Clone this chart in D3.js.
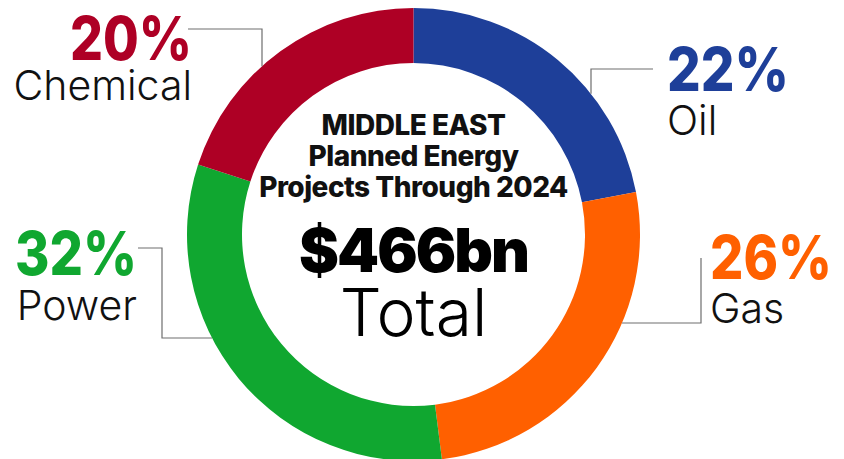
<!DOCTYPE html>
<html>
<head>
<meta charset="utf-8">
<script src="https://cdn.jsdelivr.net/npm/d3@7"></script>
<style>
  body { margin: 0; background: #fff; }
  svg text { font-family: "Inter", "DejaVu Sans", sans-serif; }
</style>
</head>
<body>
<div id="chart"></div>
<script>
// data
var categories = ["Oil", "Gas", "Power", "Chemical"];
var shares = [22, 26, 32, 20];
var colors = ["#1e3f99", "#ff6000", "#10a730", "#ae0025"];
var titleLines = ["MIDDLE EAST", "Planned Energy", "Projects Through 2024"];
var totalLabel = "$466bn";

var W = 844, H = 459;
var cx = 413.5, cy = 234.5, rOut = 226.5, rIn = 171.5;

var svg = d3.select("#chart").append("svg")
    .attr("width", W).attr("height", H);

var pie = d3.pie().sort(null).value(function(d) { return d; });
var arc = d3.arc().innerRadius(rIn).outerRadius(rOut);

var g = svg.append("g").attr("transform", "translate(" + cx + "," + cy + ")");
g.selectAll("path.slice")
    .data(pie(shares))
    .enter().append("path")
    .attr("class", "slice")
    .attr("d", arc)
    .attr("fill", function(d, i) { return colors[i]; });

// label layout: leader polyline points (last point snapped to ring), text anchor
var layout = {
    "Oil":      { pts: [[653, 69], [591, 69], [591, null]], x: 667, anchor: "start", pctY: 91, nameY: 135 },
    "Gas":      { pts: [[701, 258], [701, 323], [null, 323]], x: 710, anchor: "start", pctY: 279, nameY: 323 },
    "Power":    { pts: [[138, 248], [162, 248], [162, 338], [null, 338]], x: 137, anchor: "end", pctY: 275, nameY: 320 },
    "Chemical": { pts: [[188, 29], [262, 29], [262, null]], x: 192, anchor: "end", pctY: 60, nameY: 100 }
};

function snap(p, side) {
    // find where the last segment meets the outer ring
    if (p[1] === null) {
        var dx = p[0] - cx;
        return [p[0], cy - Math.sqrt(rOut * rOut - dx * dx)];
    }
    var dy = p[1] - cy;
    var dx2 = Math.sqrt(rOut * rOut - dy * dy);
    return [side === "left" ? cx - dx2 : cx + dx2, p[1]];
}

var line = d3.line();
categories.forEach(function(c, i) {
    var L = layout[c];
    var pts = L.pts.map(function(p, k) {
        if (k < L.pts.length - 1) return p;
        return snap(p, L.anchor === "end" ? "left" : "right");
    });
    svg.append("path")
        .attr("d", line(pts))
        .attr("fill", "none")
        .attr("stroke", "#6e6e6e")
        .attr("stroke-width", 1.2);

    svg.append("text")
        .attr("x", L.x).attr("y", L.pctY)
        .attr("text-anchor", L.anchor)
        .attr("textLength", 122)
        .attr("lengthAdjust", "spacingAndGlyphs")
        .style("font-size", "60px")
        .style("font-weight", 800)
        .attr("fill", colors[i])
        .text(shares[i] + "%");

    svg.append("text")
        .attr("x", L.x).attr("y", L.nameY)
        .attr("text-anchor", L.anchor)
        .style("font-size", "41px")
        .style("font-weight", 300)
        .attr("fill", "#111")
        .text(c);
});

// centre text
titleLines.forEach(function(t, i) {
    svg.append("text")
        .attr("x", cx).attr("y", 135 + i * 31)
        .attr("text-anchor", "middle")
        .style("font-size", "28px")
        .style("font-weight", 800)
        .style("letter-spacing", "-0.5px")
        .attr("fill", "#111")
        .text(t);
});

svg.append("text")
    .attr("x", cx).attr("y", 272)
    .attr("text-anchor", "middle")
    .style("font-size", "60px")
    .style("font-weight", 900)
    .style("letter-spacing", "-2px")
    .attr("fill", "#000")
    .text(totalLabel);

svg.append("text")
    .attr("x", cx).attr("y", 336)
    .attr("text-anchor", "middle")
    .style("font-size", "66px")
    .style("font-weight", 300)
    .attr("fill", "#000")
    .text("Total");
</script>
</body>
</html>
